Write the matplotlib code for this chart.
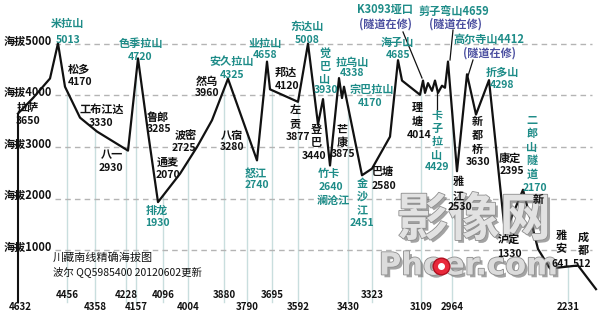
import matplotlib
matplotlib.use("Agg")
import numpy as np
import matplotlib.pyplot as plt
import matplotlib.patheffects as pe

plt.rcParams['font.family'] = ['Noto Sans CJK SC', 'DejaVu Sans']

#########################################################
# route profile: position along chart, elevation (m)
route_pos = [18, 33, 50, 58, 65, 80, 97, 128, 138, 148, 158, 180, 197, 212, 228,
             257, 267, 270, 298, 308, 318, 323, 330, 339, 342, 344, 362, 372, 390,
             398, 402, 420, 423, 425, 428, 432, 435, 438, 442, 445, 448, 457, 467,
             476, 489, 505, 523, 538, 550, 578, 596]
route_elev = [3650, 3950, 4330, 5013, 4170, 3570, 3300, 2930, 4720, 3285, 1930, 2480,
              3000, 3520, 4325, 2740, 4658, 4120, 3877, 5008, 3440, 3930, 2640, 4338,
              3950, 4170, 2451, 2580, 3200, 4685, 4290, 4014, 4290, 4050, 4240, 4090,
              4290, 4050, 4190, 4150, 4659, 2530, 4412, 3630, 4298, 1330, 2170, 1020,
              641, 700, 240]

# elevation levels on the left
levels = [5000, 4000, 3000, 2000, 1000]

# mileage labels (two rows)
mile_low = ["4632", "4358", "4157", "4004", "3790", "3592", "3430", "3109", "2964", "2231"]
mile_low_pos = [20, 95, 136, 188, 247, 298, 348, 421, 452, 568]
mile_up = ["4456", "4228", "4096", "3880", "3695", "3323"]
mile_up_pos = [67, 126, 163, 224, 272, 372]

TEAL = "#1e8c88"
PURP = "#4b4fa0"
BLK = "#111111"

# place names: text, x, y (pixel layout), colour
names = [
    ("米拉山", 67, 23, TEAL), ("5013", 68, 40, TEAL),
    ("色季拉山", 141, 43, TEAL), ("4720", 140, 57, TEAL),
    ("排龙", 157, 210, TEAL), ("1930", 157, 223, TEAL),
    ("安久拉山", 232, 62, TEAL), ("4325", 232, 75, TEAL),
    ("业拉山", 265, 43, TEAL), ("4658", 265, 55, TEAL),
    ("东达山", 307, 26, TEAL), ("5008", 307, 40, TEAL),
    ("3930", 326, 90, TEAL),
    ("拉乌山", 352, 62, TEAL), ("4338", 352, 73, TEAL),
    ("宗巴拉山", 372, 89, TEAL), ("4170", 370, 103, TEAL),
    ("竹卡", 329, 173, TEAL), ("2640", 331, 187, TEAL), ("澜沧江", 333, 200, TEAL),
    ("2451", 362, 223, TEAL),
    ("怒江", 256, 173, TEAL), ("2740", 257, 185, TEAL),
    ("海子山", 397, 42, TEAL), ("4685", 398, 55, TEAL),
    ("K3093垭口", 385, 10, TEAL), ("(隧道在修)", 385, 24, PURP),
    ("剪子弯山4659", 454, 11, TEAL), ("(隧道在修)", 455, 24, PURP),
    ("高尔寺山4412", 489, 39, TEAL), ("(隧道在修)", 490, 53, PURP),
    ("折多山", 502, 72, TEAL), ("4298", 502, 85, TEAL),
    ("4429", 437, 167, TEAL), ("2170", 535, 188, TEAL),
    ("拉萨", 28, 108, BLK), ("3650", 28, 121, BLK),
    ("松多", 79, 69, BLK), ("4170", 80, 82, BLK),
    ("工布江达", 102, 109, BLK), ("3330", 101, 123, BLK),
    ("八一", 112, 155, BLK), ("2930", 111, 168, BLK),
    ("鲁郎", 158, 117, BLK), ("3285", 159, 129, BLK),
    ("波密", 186, 136, BLK), ("2725", 184, 148, BLK),
    ("通麦", 168, 162, BLK), ("2070", 168, 175, BLK),
    ("然乌", 207, 81, BLK), ("3960", 207, 93, BLK),
    ("八宿", 232, 135, BLK), ("3280", 232, 147, BLK),
    ("邦达", 286, 72, BLK), ("4120", 287, 86, BLK),
    ("3877", 298, 137, BLK), ("3440", 314, 156, BLK), ("3875", 343, 154, BLK),
    ("巴塘", 383, 171, BLK), ("2580", 384, 186, BLK),
    ("4014", 419, 135, BLK), ("2530", 460, 207, BLK), ("3630", 478, 162, BLK),
    ("康定", 510, 158, BLK), ("2395", 512, 171, BLK),
    ("泸定", 509, 239, BLK), ("1330", 509, 254, BLK),
    ("641", 561, 264, BLK), ("512", 582, 264, BLK), ("新", 538, 200, BLK),
]

# vertical names: text, x, top y, colour
vnames = [
    ("觉巴山", 325, 53, TEAL), ("金沙江", 362, 183, TEAL),
    ("卡子拉山", 437, 115, TEAL), ("二郎山隧道", 532, 120, TEAL),
    ("左贡", 295, 110, BLK), ("登巴", 316, 129, BLK), ("芒康", 342, 129, BLK),
    ("理塘", 417, 108, BLK), ("雅江", 458, 182, BLK), ("新都桥", 477, 122, BLK),
    ("雅安", 561, 235, BLK), ("成都", 583, 237, BLK),
]

#########################################################

fig = plt.figure(figsize=(6, 3.18), dpi=100)
fig.patch.set_facecolor("white")

# data axes: x = chart position, y = elevation
ax = fig.add_axes([0, 0, 1, 1])
ax.set_xlim(0, 600)
ax.set_ylim(-320, 5854)
ax.axis("off")

# text axes in pixel layout
tx = fig.add_axes([0, 0, 1, 1])
tx.set_xlim(0, 600)
tx.set_ylim(318, 0)
tx.axis("off")
tx.patch.set_alpha(0)

# vertical grid lines from the bottom up to the profile
for p in mile_low_pos[1:] + mile_up_pos:
    top = np.interp(p, route_pos, route_elev)
    ax.plot([p, p], [0, top], color="#c9dede", lw=1, zorder=1)

# dashed elevation lines
for lv in levels:
    ax.plot([55, 592], [lv, lv], color="#b4b4b4", lw=1, ls=(0, (4, 3)), zorder=1)
    tx.text(4, 301.5 - lv * 0.0515 - 3, "海拔%d" % lv, fontsize=8, fontweight="bold",
            color=BLK, ha="left", va="center")

# left axis line
ax.plot([18, 18], [0, 3650], color=BLK, lw=1.5, zorder=2)

# profile
ax.plot(route_pos, route_elev, color=BLK, lw=1.6, zorder=3)

# pointer lines
tx.plot([403, 422], [32, 78], color=BLK, lw=0.9)
tx.plot([453, 450], [30, 60], color=BLK, lw=0.9)
tx.plot([473, 468], [60, 76], color=BLK, lw=0.9)
tx.plot([437, 437], [92, 110], color=BLK, lw=0.9)

# watermark (under the labels so they stay readable)
fx = [pe.SimplePatchShadow(offset=(2, -2), shadow_rgbFace="#666666", alpha=0.6),
      pe.Stroke(linewidth=1.2, foreground="#8e8e8e"), pe.Normal()]
tx.text(474, 220, "影像网", fontsize=37, fontweight="bold", color="#e2e2e2",
        ha="center", va="center", path_effects=fx, zorder=2)
tx.text(468, 266, "Phoer.com", fontsize=22, fontweight="bold", color="#dcdcdc",
        family="DejaVu Sans", ha="center", va="center", path_effects=fx, zorder=2)
tx.plot([441], [266], "o", ms=12, mfc="#e8283a", mec="#b01020", zorder=3)
tx.plot([441], [266], "o", ms=4, mfc="white", mec="white", zorder=3)

for s, x, y, c in names:
    fs = 7.5 if s[0].isdigit() else 8
    tx.text(x, y, s, fontsize=fs, fontweight="bold", color=c, ha="center", va="center",
            zorder=4)

for s, x, y, c in vnames:
    for i, ch in enumerate(s):
        tx.text(x, y + i * 13.5, ch, fontsize=8, fontweight="bold", color=c,
                ha="center", va="center", zorder=4)

for s, p in zip(mile_low, mile_low_pos):
    tx.text(p, 307, s, fontsize=7, fontweight="bold", color=BLK, ha="center", va="center")
for s, p in zip(mile_up, mile_up_pos):
    tx.text(p, 295, s, fontsize=7, fontweight="bold", color=BLK, ha="center", va="center")

tx.text(53, 258, "川藏南线精确海拔图", fontsize=8, color=BLK, ha="left", va="center")
tx.text(53, 272, "波尔 QQ5985400 20120602更新", fontsize=7.5, color=BLK, ha="left", va="center")

fig.savefig("out.png", dpi=100)
